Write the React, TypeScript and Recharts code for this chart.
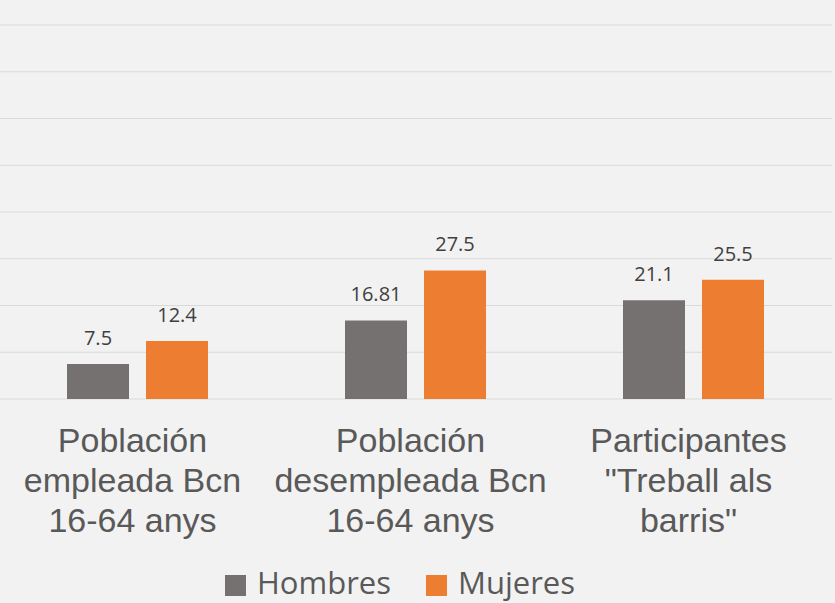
import React from "react";
import {
  BarChart,
  Bar,
  XAxis,
  YAxis,
  CartesianGrid,
  Legend,
  LabelList,
} from "recharts";

const categories = [
  "Población\nempleada Bcn\n16-64 anys",
  "Población\ndesempleada Bcn\n16-64 anys",
  "Participantes\n\"Treball als\nbarris\"",
];
const hombres = [7.5, 16.81, 21.1];
const mujeres = [12.4, 27.5, 25.5];
const yTicks = [0, 10, 20, 30, 40, 50, 60, 70, 80];

const data = categories.map((c, i) => ({
  categoria: c,
  Hombres: hombres[i],
  Mujeres: mujeres[i],
}));

const CategoryTick = (props: any) => {
  const { x, y, payload } = props;
  const lines = String(payload.value).split("\n");
  return (
    <text
      x={x - 4.5}
      y={y}
      textAnchor="middle"
      fill="#595959"
      fontFamily="'Liberation Sans', Arial, sans-serif"
      fontSize={34}
    >
      {lines.map((l, i) => (
        <tspan key={i} x={x - 4.5} y={y + 53 + i * 40}>
          {l}
        </tspan>
      ))}
    </text>
  );
};

const LegendContent = (props: any) => {
  const { payload } = props;
  return (
    <div
      style={{
        height: 44,
        boxSizing: "border-box",
        paddingTop: 8,
        paddingLeft: 225,
        display: "flex",
        alignItems: "flex-start",
        fontFamily: "'Open Sans', sans-serif",
        fontSize: 31,
        lineHeight: "31px",
        color: "#595959",
      }}
    >
      {(payload || []).map((p: any, i: number) => (
        <div
          key={i}
          style={{ display: "flex", alignItems: "center", marginRight: 35 }}
        >
          <span
            style={{
              width: 21,
              height: 21,
              background: p.color,
              marginRight: 11,
              marginTop: 6,
              display: "inline-block",
            }}
          />
          <span>{p.value}</span>
        </div>
      ))}
    </div>
  );
};

export default function App() {
  return (
    <div
      style={{
        position: "absolute",
        left: 0,
        top: 0,
        width: 835,
        height: 603,
        background: "#F2F2F2",
      }}
    >
      <BarChart
        width={835}
        height={603}
        data={data}
        margin={{ top: 25, right: 3, left: -2, bottom: 0 }}
        barGap={17}
        barSize={62}
      >
        <CartesianGrid vertical={false} stroke="#D9D9D9" strokeWidth={1.2} />
        <XAxis
          dataKey="categoria"
          height={160}
          axisLine={false}
          tickLine={false}
          tickSize={0}
          tickMargin={0}
          interval={0}
          tick={<CategoryTick />}
        />
        <YAxis hide domain={[0, 80]} ticks={yTicks} />
        <Legend
          verticalAlign="bottom"
          wrapperStyle={{ left: 0, width: 835, height: 44 }}
          content={<LegendContent />}
        />
        <Bar dataKey="Hombres" fill="#767171" isAnimationActive={false}>
          <LabelList
            dataKey="Hombres"
            position="top"
            offset={19}
            fill="#404040"
            fontFamily="'Open Sans', sans-serif"
            fontSize={20}
            isAnimationActive={false}
          />
        </Bar>
        <Bar dataKey="Mujeres" fill="#ED7D31" isAnimationActive={false}>
          <LabelList
            dataKey="Mujeres"
            position="top"
            offset={19}
            fill="#404040"
            fontFamily="'Open Sans', sans-serif"
            fontSize={20}
            isAnimationActive={false}
          />
        </Bar>
      </BarChart>
    </div>
  );
}
